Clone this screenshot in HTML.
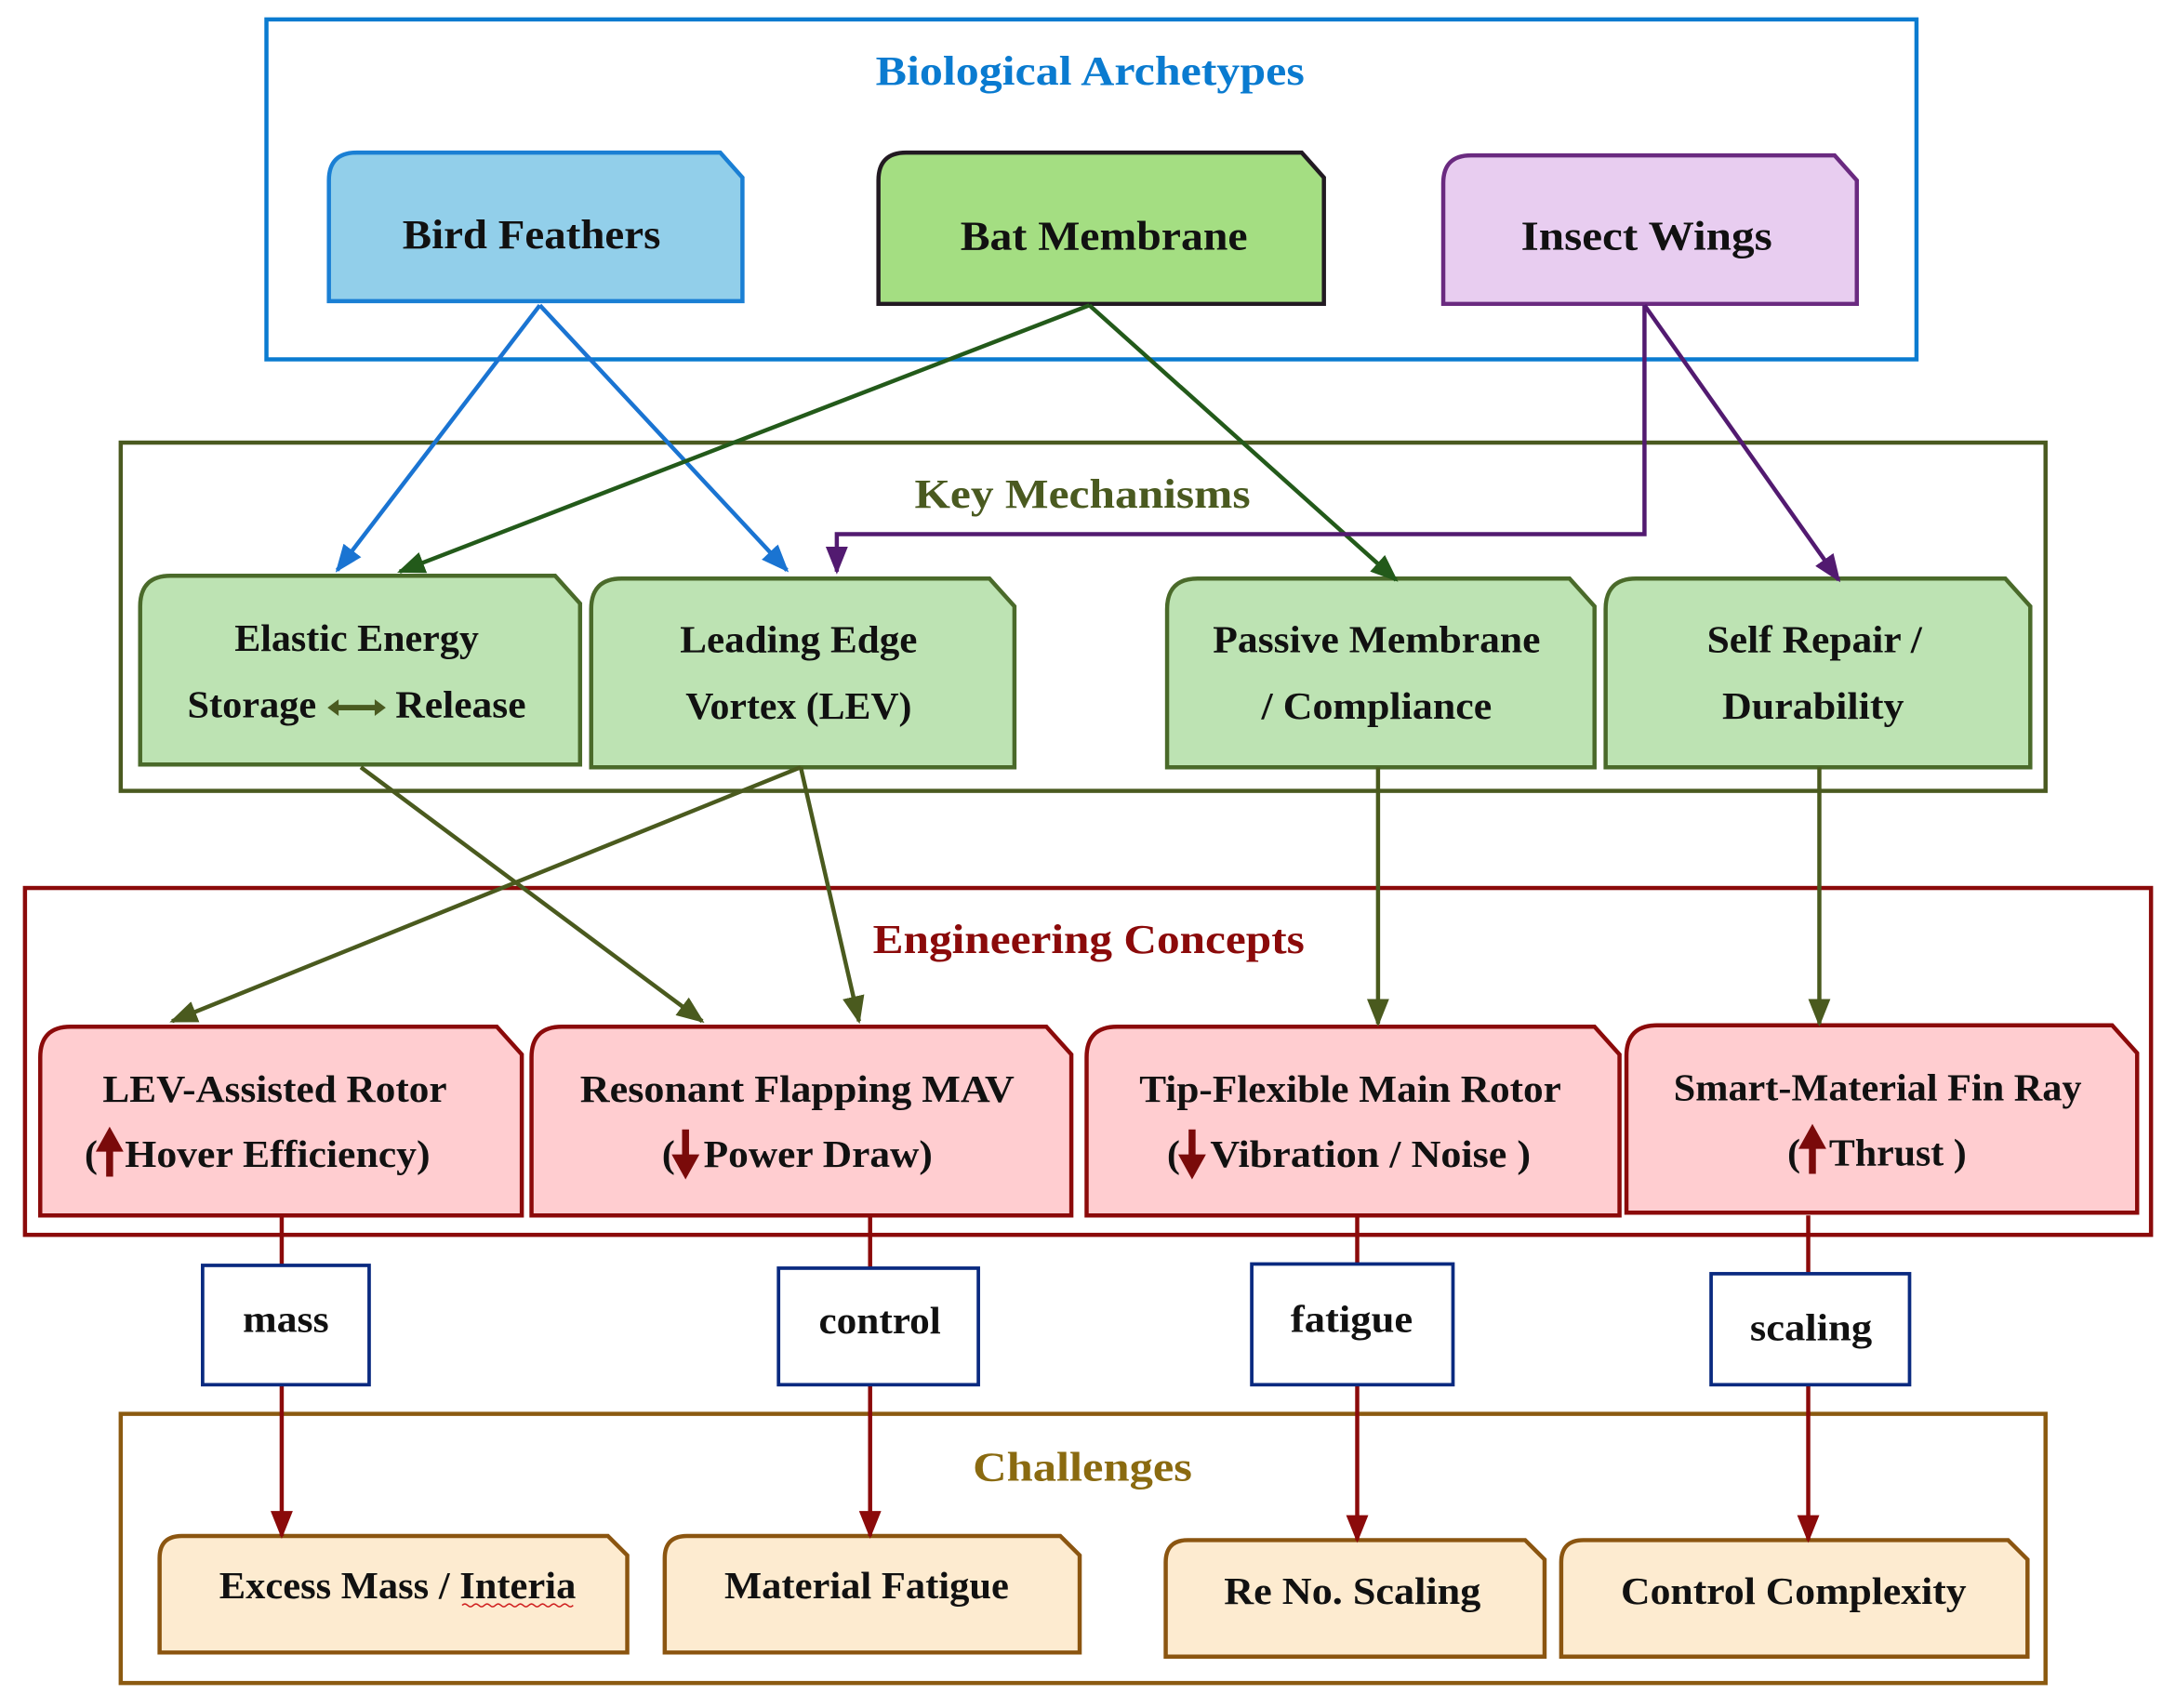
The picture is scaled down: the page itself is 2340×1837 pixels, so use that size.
<!DOCTYPE html>
<html><head><meta charset="utf-8"><style>
html,body{margin:0;padding:0;background:#fff;}
svg{display:block;}
text{font-family:"Liberation Serif",serif;font-weight:bold;}
</style></head><body>
<svg width="2340" height="1837" viewBox="0 0 1568 1231" preserveAspectRatio="none" xmlns="http://www.w3.org/2000/svg">
<defs>
<marker id="mb" markerWidth="20" markerHeight="16" refX="18" refY="8" orient="auto" markerUnits="userSpaceOnUse" viewBox="0 0 20 16"><path d="M0,0 L20,8 L0,16 Z" fill="#1a74d2"/></marker>
<marker id="mg" markerWidth="20" markerHeight="16" refX="18" refY="8" orient="auto" markerUnits="userSpaceOnUse" viewBox="0 0 20 16"><path d="M0,0 L20,8 L0,16 Z" fill="#235a1a"/></marker>
<marker id="mp" markerWidth="20" markerHeight="16" refX="18" refY="8" orient="auto" markerUnits="userSpaceOnUse" viewBox="0 0 20 16"><path d="M0,0 L20,8 L0,16 Z" fill="#521a70"/></marker>
<marker id="mo" markerWidth="20" markerHeight="16" refX="18" refY="8" orient="auto" markerUnits="userSpaceOnUse" viewBox="0 0 20 16"><path d="M0,0 L20,8 L0,16 Z" fill="#4a5a1e"/></marker>
<marker id="mr" markerWidth="20" markerHeight="16" refX="18" refY="8" orient="auto" markerUnits="userSpaceOnUse" viewBox="0 0 20 16"><path d="M0,0 L20,8 L0,16 Z" fill="#8b0a0a"/></marker>
</defs>

<rect x="192" y="14" width="1189" height="245" fill="none" stroke="#0a7bd0" stroke-width="3"/>
<text x="631" y="61" font-size="30" fill="#0a7bd0" textLength="309" lengthAdjust="spacingAndGlyphs">Biological Archetypes</text>
<rect x="87" y="319" width="1387" height="251" fill="none" stroke="#4a5a20" stroke-width="3"/>
<text x="659" y="366" font-size="30" fill="#4a5a20" textLength="242" lengthAdjust="spacingAndGlyphs">Key Mechanisms</text>
<rect x="18" y="640" width="1532" height="250" fill="none" stroke="#8b0a0a" stroke-width="3"/>
<text x="629" y="687" font-size="30" fill="#8b0a0a" textLength="311" lengthAdjust="spacingAndGlyphs">Engineering Concepts</text>
<rect x="87" y="1019" width="1387" height="194" fill="none" stroke="#8b5a10" stroke-width="3"/>
<text x="701" y="1067" font-size="30" fill="#8a6a10" textLength="158" lengthAdjust="spacingAndGlyphs">Challenges</text>

<path d="M237,130 Q237,110 257,110 L519,110 L535,128 L535,217 L237,217 Z" fill="#92cfea" stroke="#1a7fd4" stroke-width="3"/>
<text x="290" y="179" font-size="30" fill="#111" textLength="186" lengthAdjust="spacingAndGlyphs">Bird Feathers</text>
<path d="M633,130 Q633,110 653,110 L938,110 L954,128 L954,219 L633,219 Z" fill="#a4de82" stroke="#221a22" stroke-width="3"/>
<text x="692" y="180" font-size="30" fill="#111" textLength="207" lengthAdjust="spacingAndGlyphs">Bat Membrane</text>
<path d="M1040,132 Q1040,112 1060,112 L1322,112 L1338,130 L1338,219 L1040,219 Z" fill="#e8cdf0" stroke="#6a2a80" stroke-width="3"/>
<text x="1096" y="180" font-size="30" fill="#111" textLength="181" lengthAdjust="spacingAndGlyphs">Insect Wings</text>

<g fill="#bde3b3" stroke="#4a6a2a" stroke-width="3">
<path d="M101,437 Q101,415 123,415 L400,415 L418,435 L418,551 L101,551 Z"/>
<path d="M426,439 Q426,417 448,417 L713,417 L731,437 L731,553 L426,553 Z"/>
<path d="M841,439 Q841,417 863,417 L1131,417 L1149,437 L1149,553 L841,553 Z"/>
<path d="M1157,439 Q1157,417 1179,417 L1445,417 L1463,437 L1463,553 L1157,553 Z"/>
</g>
<g font-size="28" fill="#111">
<text x="169" y="469" textLength="176" lengthAdjust="spacingAndGlyphs">Elastic Energy</text>
<text x="135" y="517" textLength="93" lengthAdjust="spacingAndGlyphs">Storage</text>
<text x="285" y="517" textLength="94" lengthAdjust="spacingAndGlyphs">Release</text>
<text x="490" y="470" textLength="171" lengthAdjust="spacingAndGlyphs">Leading Edge</text>
<text x="494" y="518" textLength="163" lengthAdjust="spacingAndGlyphs">Vortex (LEV)</text>
<text x="874" y="470" textLength="236" lengthAdjust="spacingAndGlyphs">Passive Membrane</text>
<text x="909" y="518" textLength="166" lengthAdjust="spacingAndGlyphs">/ Compliance</text>
<text x="1230" y="470" textLength="155" lengthAdjust="spacingAndGlyphs">Self Repair /</text>
<text x="1241" y="518" textLength="131" lengthAdjust="spacingAndGlyphs">Durability</text>
</g>
<path d="M236,510 L244,504 L244,508 L270,508 L270,504 L278,510 L270,516 L270,512 L244,512 L244,516 Z" fill="#4a5a20"/>

<g fill="#ffcdd0" stroke="#8b0a0a" stroke-width="3">
<path d="M29,762 Q29,740 51,740 L358,740 L376,760 L376,876 L29,876 Z"/>
<path d="M383,762 Q383,740 405,740 L754,740 L772,760 L772,876 L383,876 Z"/>
<path d="M783,762 Q783,740 805,740 L1149,740 L1167,760 L1167,876 L783,876 Z"/>
<path d="M1172,761 Q1172,739 1194,739 L1522,739 L1540,759 L1540,874 L1172,874 Z"/>
</g>
<g font-size="28" fill="#111">
<text x="74" y="794" textLength="248" lengthAdjust="spacingAndGlyphs">LEV-Assisted Rotor</text>
<text x="61" y="841">(</text>
<text x="90" y="841" textLength="220" lengthAdjust="spacingAndGlyphs">Hover Efficiency)</text>
<text x="418" y="794" textLength="313" lengthAdjust="spacingAndGlyphs">Resonant Flapping MAV</text>
<text x="477" y="841">(</text>
<text x="507" y="841" textLength="165" lengthAdjust="spacingAndGlyphs">Power Draw)</text>
<text x="821" y="794" textLength="304" lengthAdjust="spacingAndGlyphs">Tip-Flexible Main Rotor</text>
<text x="841" y="841">(</text>
<text x="872" y="841" textLength="231" lengthAdjust="spacingAndGlyphs">Vibration / Noise )</text>
<text x="1206" y="793" textLength="294" lengthAdjust="spacingAndGlyphs">Smart-Material Fin Ray</text>
<text x="1288" y="840">(</text>
<text x="1318" y="840" textLength="99" lengthAdjust="spacingAndGlyphs">Thrust )</text>
</g>
<g fill="#7a0a0a">
<path d="M79,812 L89,830 L81.5,830 L81.5,848 L76.5,848 L76.5,830 L69,830 Z"/>
<path d="M494,850 L504,832 L496.5,832 L496.5,814 L491.5,814 L491.5,832 L484,832 Z"/>
<path d="M859,850 L869,832 L861.5,832 L861.5,814 L856.5,814 L856.5,832 L849,832 Z"/>
<path d="M1306,810 L1316,828 L1308.5,828 L1308.5,846 L1303.5,846 L1303.5,828 L1296,828 Z"/>
</g>

<g fill="#fdebd0" stroke="#8b5510" stroke-width="3">
<path d="M115,1123 Q115,1107 131,1107 L438,1107 L452,1121 L452,1191 L115,1191 Z"/>
<path d="M479,1123 Q479,1107 495,1107 L764,1107 L778,1121 L778,1191 L479,1191 Z"/>
<path d="M840,1126 Q840,1110 856,1110 L1099,1110 L1113,1124 L1113,1194 L840,1194 Z"/>
<path d="M1125,1126 Q1125,1110 1141,1110 L1447,1110 L1461,1124 L1461,1194 L1125,1194 Z"/>
</g>
<g font-size="28" fill="#111">
<text x="158" y="1152" textLength="257" lengthAdjust="spacingAndGlyphs">Excess Mass / Interia</text>
<text x="522" y="1152" textLength="205" lengthAdjust="spacingAndGlyphs">Material Fatigue</text>
<text x="882" y="1156" textLength="185" lengthAdjust="spacingAndGlyphs">Re No. Scaling</text>
<text x="1168" y="1156" textLength="249" lengthAdjust="spacingAndGlyphs">Control Complexity</text>
</g>
<path d="M333,1157 q2,-2 4,0 t4,0 t4,0 t4,0 t4,0 t4,0 t4,0 t4,0 t4,0 t4,0 t4,0 t4,0 t4,0 t4,0 t4,0 t4,0 t4,0 t4,0 t4,0 t4,0" fill="none" stroke="#d02020" stroke-width="1"/>

<g stroke-width="3" fill="none">
<line x1="389" y1="220" x2="243" y2="411" stroke="#1a74d2" marker-end="url(#mb)"/>
<line x1="389" y1="220" x2="567" y2="411" stroke="#1a74d2" marker-end="url(#mb)"/>
<line x1="785" y1="220" x2="288" y2="412" stroke="#235a1a" marker-end="url(#mg)"/>
<line x1="785" y1="220" x2="1006" y2="418" stroke="#235a1a" marker-end="url(#mg)"/>
<polyline points="1185,220 1185,385 603,385 603,412" stroke="#521a70" marker-end="url(#mp)"/>
<line x1="1185" y1="220" x2="1325" y2="418" stroke="#521a70" marker-end="url(#mp)"/>
<line x1="260" y1="553" x2="506" y2="736" stroke="#4a5a1e" marker-end="url(#mo)"/>
<line x1="577" y1="553" x2="124" y2="736" stroke="#4a5a1e" marker-end="url(#mo)"/>
<line x1="577" y1="553" x2="619" y2="736" stroke="#4a5a1e" marker-end="url(#mo)"/>
<line x1="993" y1="553" x2="993" y2="738" stroke="#4a5a1e" marker-end="url(#mo)"/>
<line x1="1311" y1="553" x2="1311" y2="738" stroke="#4a5a1e" marker-end="url(#mo)"/>
<g stroke="#8b0a0a">
<line x1="203" y1="876" x2="203" y2="912"/><line x1="203" y1="998" x2="203" y2="1107" marker-end="url(#mr)"/>
<line x1="627" y1="876" x2="627" y2="914"/><line x1="627" y1="998" x2="627" y2="1107" marker-end="url(#mr)"/>
<line x1="978" y1="876" x2="978" y2="911"/><line x1="978" y1="998" x2="978" y2="1110" marker-end="url(#mr)"/>
<line x1="1303" y1="876" x2="1303" y2="918"/><line x1="1303" y1="998" x2="1303" y2="1110" marker-end="url(#mr)"/>
</g>
</g>

<g fill="#fff" stroke="#0a2a80" stroke-width="2.5">
<rect x="146" y="912" width="120" height="86"/>
<rect x="561" y="914" width="144" height="84"/>
<rect x="902" y="911" width="145" height="87"/>
<rect x="1233" y="918" width="143" height="80"/>
</g>
<g font-size="28" fill="#111">
<text x="175" y="960" textLength="62" lengthAdjust="spacingAndGlyphs">mass</text>
<text x="590" y="961" textLength="88" lengthAdjust="spacingAndGlyphs">control</text>
<text x="930" y="960" textLength="88" lengthAdjust="spacingAndGlyphs">fatigue</text>
<text x="1261" y="966" textLength="88" lengthAdjust="spacingAndGlyphs">scaling</text>
</g>
</svg>
</body></html>
